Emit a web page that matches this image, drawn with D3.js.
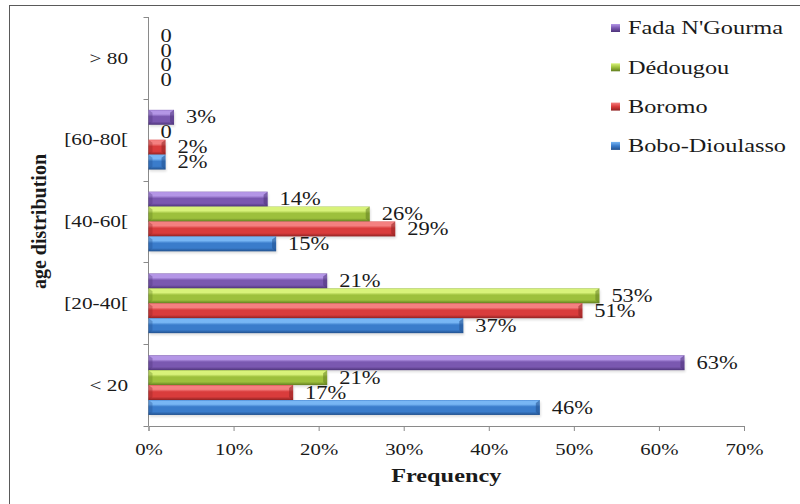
<!DOCTYPE html>
<html>
<head>
<meta charset="utf-8">
<script src="https://cdn.jsdelivr.net/npm/d3@7"></script>
<style>
  html, body { margin: 0; padding: 0; background: #fff; }
  svg { display: block; }
  text { font-family: "Liberation Serif", "Times New Roman", serif; fill: #1a1a1a; }
</style>
</head>
<body>
<svg id="chart" width="800" height="504"></svg>
<script>
// Age classes, top to bottom
const categories = ["> 80", "[60-80[", "[40-60[", "[20-40[", "< 20"];
// Series, drawn top to bottom inside each age class
const seriesNames = ["Fada N'Gourma", "Dédougou", "Boromo", "Bobo-Dioulasso"];
// Percentages per age class (same order as categories)
const fadaNGourma   = [0, 3, 14, 21, 63];
const dedougou      = [0, 0, 26, 53, 21];
const boromo        = [0, 2, 29, 51, 17];
const boboDioulasso = [0, 2, 15, 37, 46];
const xTicks = [0, 10, 20, 30, 40, 50, 60, 70];

const seriesValues = [fadaNGourma, dedougou, boromo, boboDioulasso];
const palette = {
  "Fada N'Gourma":  { light: "#b496e6", base: "#7a58b0", dark: "#4e347a" },
  "Dédougou":       { light: "#d8f27a", base: "#9dc03c", dark: "#627e20" },
  "Boromo":         { light: "#f48080", base: "#d93c3c", dark: "#902222" },
  "Bobo-Dioulasso": { light: "#78b6f4", base: "#3a7ccb", dark: "#22518e" }
};

const svg = d3.select("#chart");
const W = 800, H = 504;
const plot = { left: 148.5, right: 744, top: 17, bottom: 426 };

// stretched text helper: wide serif lettering
function stretched(sel, sx) {
  return sel.attr("transform", function () {
    const prev = d3.select(this).attr("data-base") || "";
    return prev + ` scale(${sx},1)`;
  });
}

// outer frame
svg.append("rect")
  .attr("x", 9.5).attr("y", 5.5)
  .attr("width", W).attr("height", H)
  .attr("fill", "none").attr("stroke", "#5a5a5a").attr("stroke-width", 1);

const x = d3.scaleLinear().domain([0, 70]).range([plot.left, plot.right]);
const y = d3.scaleBand().domain(categories).range([plot.top, plot.bottom]).padding(0);
const step = y.step();
const inner = d3.scaleBand().domain(seriesNames)
  .range([step * 0.135, step * 0.865]).padding(0);

// gradients for the bevelled bars
const defs = svg.append("defs");
seriesNames.forEach((name, i) => {
  const c = palette[name];
  const g = defs.append("linearGradient").attr("id", "bar" + i)
    .attr("x1", 0).attr("y1", 0).attr("x2", 0).attr("y2", 1);
  [[0, c.base], [0.06, c.light], [0.28, c.light], [0.45, c.base], [0.78, c.base], [1, c.dark]]
    .forEach(([o, col]) => g.append("stop").attr("offset", o).attr("stop-color", col));
  const cap = defs.append("linearGradient").attr("id", "cap" + i)
    .attr("x1", 0).attr("y1", 0).attr("x2", 0).attr("y2", 1);
  [[0, c.light], [0.5, c.base], [1, c.dark]]
    .forEach(([o, col]) => cap.append("stop").attr("offset", o).attr("stop-color", col));
});
const shadow = defs.append("filter").attr("id", "soft").attr("x", "-5%").attr("y", "-20%")
  .attr("width", "110%").attr("height", "160%");
shadow.append("feGaussianBlur").attr("stdDeviation", 1.2);

// axes
const xAxis = d3.axisBottom(x).tickValues(xTicks).tickFormat(d => d + "%")
  .tickSize(5).tickPadding(13);
const gx = svg.append("g").attr("transform", `translate(0,${plot.bottom})`).call(xAxis);
gx.select(".domain").attr("stroke", "#8a8a8a");
gx.selectAll(".tick line").attr("stroke", "#8a8a8a");
gx.selectAll(".tick text")
  .attr("font-size", 16).attr("font-family", "Liberation Serif, serif").attr("fill", "#1a1a1a")
  .attr("transform", "scale(1.3,1)");

const gy = svg.append("g");
gy.append("line")
  .attr("x1", plot.left).attr("x2", plot.left)
  .attr("y1", plot.top).attr("y2", plot.bottom)
  .attr("stroke", "#8a8a8a");
const boundaries = categories.map(c => y(c)).concat([plot.bottom]);
gy.selectAll("line.tick").data(boundaries).join("line")
  .attr("class", "tick")
  .attr("x1", plot.left - 5).attr("x2", plot.left)
  .attr("y1", d => Math.round(d) + 0.5).attr("y2", d => Math.round(d) + 0.5)
  .attr("stroke", "#8a8a8a");
gy.selectAll("text.cat").data(categories).join("text")
  .attr("class", "cat")
  .attr("transform", d => `translate(128,${y(d) + step / 2}) scale(1.25,1)`)
  .attr("text-anchor", "end").attr("dy", "0.34em")
  .attr("font-size", 17)
  .text(d => d);

// bars
const groups = svg.append("g").selectAll("g.cat").data(categories).join("g")
  .attr("class", "cat")
  .attr("transform", d => `translate(0,${y(d)})`);

seriesNames.forEach((name, si) => {
  const vals = seriesValues[si];
  const bh = inner.bandwidth();
  groups.each(function (cat, ci) {
    const v = vals[ci];
    const g = d3.select(this);
    const y0 = inner(name);
    if (v > 0) {
      const x1 = x(v);
      g.append("rect")
        .attr("x", plot.left + 1).attr("y", y0 + 2)
        .attr("width", x1 - plot.left).attr("height", bh)
        .attr("fill", "#000").attr("opacity", 0.12).attr("filter", "url(#soft)");
      g.append("rect")
        .attr("x", plot.left).attr("y", y0)
        .attr("width", x1 - plot.left).attr("height", bh)
        .attr("fill", `url(#bar${si})`);
      // bevelled right end
      g.append("path")
        .attr("d", `M${x1 - 4},${y0 + 3} L${x1},${y0} L${x1},${y0 + bh} L${x1 - 4},${y0 + bh - 3} Z`)
        .attr("fill", palette[name].dark).attr("opacity", 0.55);
      // bevelled left end
      g.append("path")
        .attr("d", `M${plot.left},${y0} L${plot.left + 4},${y0 + 3} L${plot.left + 4},${y0 + bh - 3} L${plot.left},${y0 + bh} Z`)
        .attr("fill", palette[name].dark).attr("opacity", 0.35);
    }
    g.append("text")
      .attr("transform", `translate(${x(v) + 12},${y0 + bh / 2}) scale(1.25,1)`)
      .attr("dy", "0.34em")
      .attr("font-size", 18)
      .text(v === 0 ? "0" : v + "%");
  });
});

// axis titles
svg.append("text")
  .attr("transform", `translate(${(plot.left + plot.right) / 2},482) scale(1.35,1)`)
  .attr("text-anchor", "middle")
  .attr("font-size", 18).attr("font-weight", "bold")
  .text("Frequency");

svg.append("text")
  .attr("transform", `translate(46,${(plot.top + plot.bottom) / 2}) rotate(-90)`)
  .attr("text-anchor", "middle")
  .attr("font-size", 20).attr("font-weight", "bold")
  .text("age distribution");

// legend
const legend = svg.append("g").attr("transform", "translate(611,28)");
const rows = legend.selectAll("g").data(seriesNames).join("g")
  .attr("transform", (d, i) => `translate(0,${i * 39.3})`);
rows.append("rect")
  .attr("x", 0).attr("y", -4).attr("width", 9).attr("height", 8)
  .attr("fill", (d, i) => `url(#cap${i})`);
rows.append("text")
  .attr("transform", "translate(17,0) scale(1.28,1)")
  .attr("dy", "0.34em")
  .attr("font-size", 19)
  .text(d => d);
</script>
</body>
</html>
